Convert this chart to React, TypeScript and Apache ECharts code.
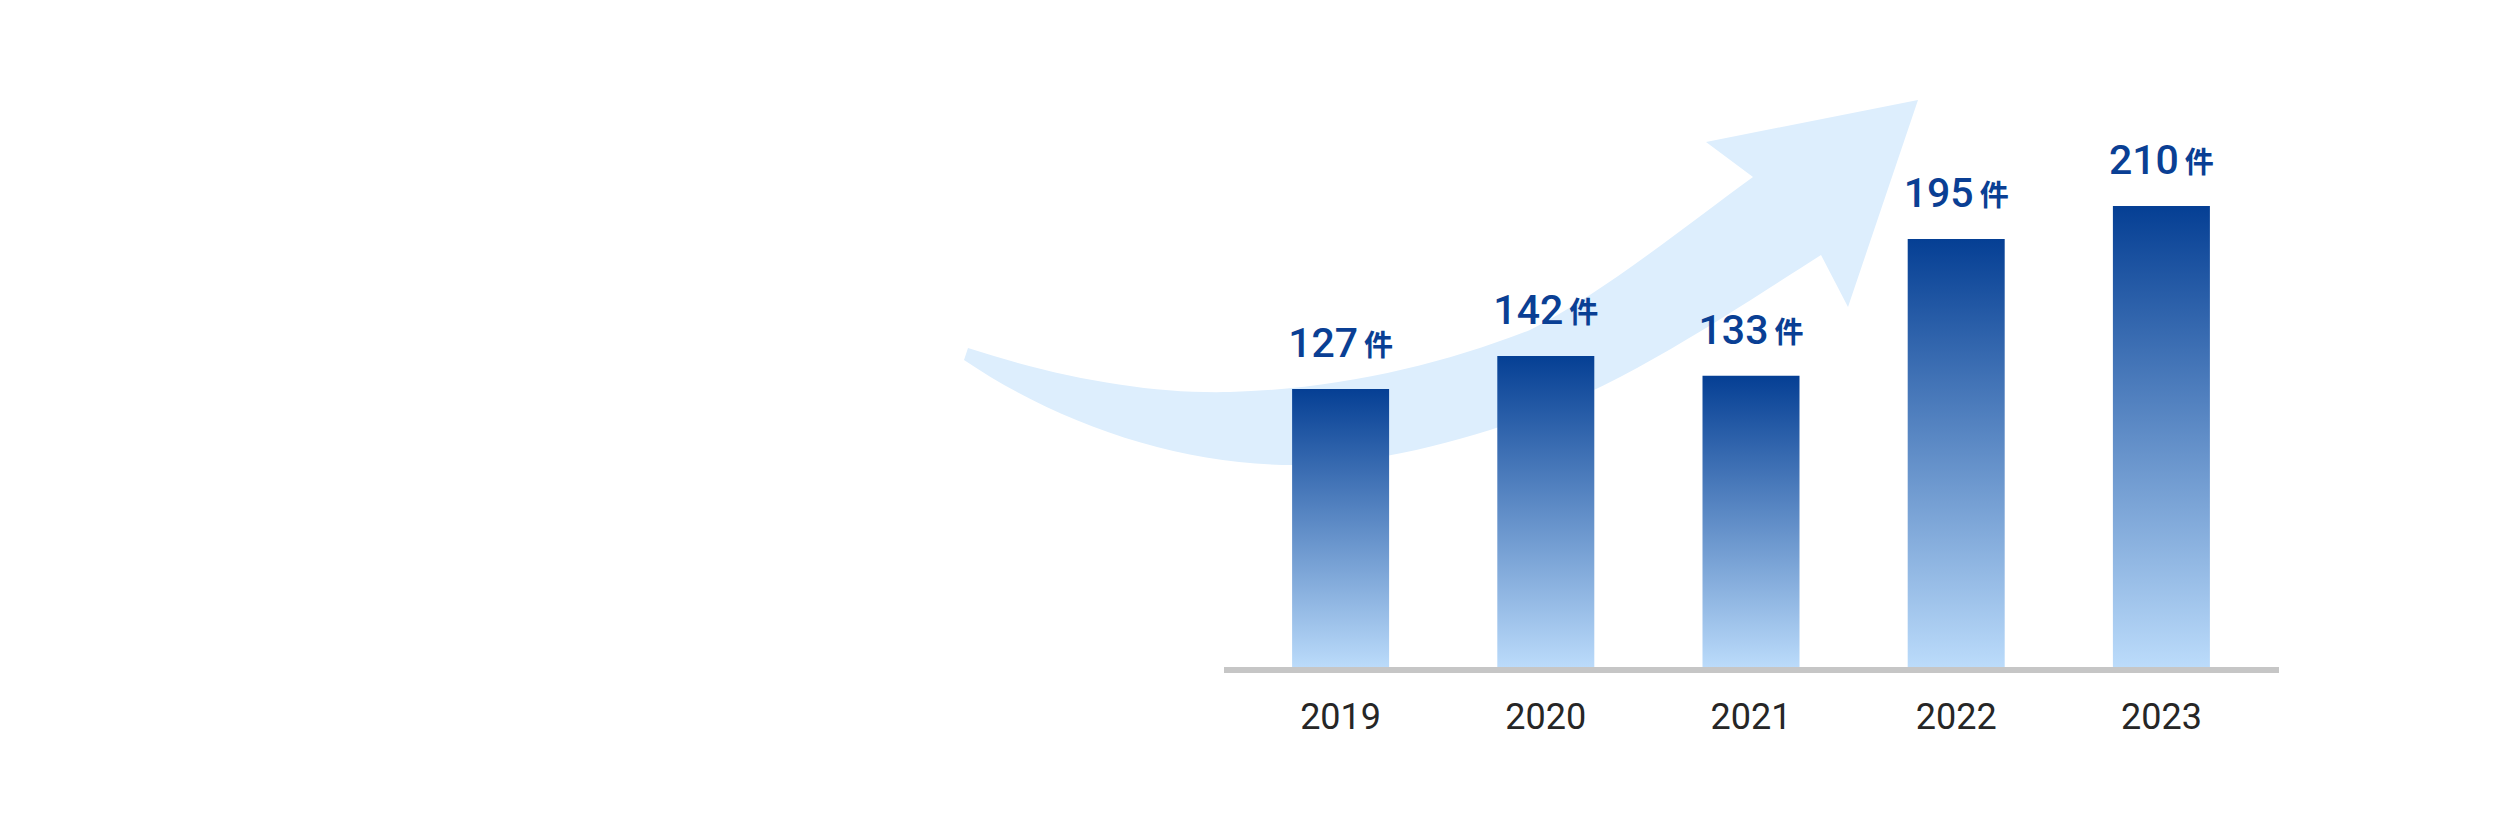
import * as echarts from "echarts";
import React, { useEffect, useRef } from "react";

const years = ["2019", "2020", "2021", "2022", "2023"];
const counts = [127, 142, 133, 195, 210];
const unit = "件";

// big rising arrow behind the bars
const arrowPath =
  "M968 348 C1060 378 1150 394 1230 392 C1340 389 1440 365 1530 330 " +
  "C1600 295 1680 230 1753 177 L1706 142 L1918 100 L1848 307 L1821 255 " +
  "C1750 300 1615 392 1520 420 C1440 448 1360 465 1294 465 " +
  "C1180 465 1060 425 964 360 Z";

echarts.graphic.registerShape("riseArrow", echarts.graphic.extendPath(arrowPath, {}));

const App: React.FC = () => {
  const chartRef = useRef<HTMLDivElement>(null);

  useEffect(() => {
    if (!chartRef.current) return;
    const chart = echarts.init(chartRef.current, null, { renderer: "svg" });

    const option = {
      animation: false,
      backgroundColor: "#ffffff",
      grid: { left: 1238, right: 256, top: 7.5, bottom: 163 },
      xAxis: {
        type: "category",
        data: years,
        axisLine: { show: false },
        axisTick: { show: false },
        axisLabel: {
          margin: 30,
          color: "#262626",
          fontSize: 36,
          fontFamily: "Roboto",
        },
      },
      yAxis: {
        type: "value",
        min: 0,
        max: 300,
        show: false,
        splitLine: { show: false },
      },
      graphic: [
        {
          type: "riseArrow",
          x: 0,
          y: 0,
          z: 0,
          silent: true,
          style: { fill: "#ddeefd" },
        },
        {
          type: "rect",
          z: 100,
          silent: true,
          shape: { x: 1224, y: 667, width: 1055, height: 6 },
          style: { fill: "#c6c6c6" },
        },
      ],
      series: [
        {
          type: "bar",
          data: counts,
          barWidth: 97,
          z: 2,
          itemStyle: {
            color: new echarts.graphic.LinearGradient(0, 0, 0, 1, [
              { offset: 0, color: "#053f94" },
              { offset: 1, color: "#bcdcfb" },
            ]),
          },
          label: {
            show: true,
            position: "top",
            distance: 24,
            formatter: (p: any) => `{n|${p.value}}{u|${unit}}`,
            rich: {
              n: {
                fontSize: 41,
                fontWeight: 500,
                fontFamily: "Roboto",
                color: "#0a3f94",
                lineHeight: 44,
                padding: [0, 6, 0, 0],
              },
              u: {
                fontSize: 29,
                fontWeight: 700,
                fontFamily: "Noto Sans CJK JP",
                color: "#0a3f94",
                lineHeight: 44,
              },
            },
          },
        },
      ],
    };

    chart.setOption(option);
    return () => {
      chart.dispose();
    };
  }, []);

  return (
    <div
      ref={chartRef}
      style={{ position: "fixed", left: 0, top: 0, width: 2520, height: 832 }}
    ></div>
  );
};

export default App;
